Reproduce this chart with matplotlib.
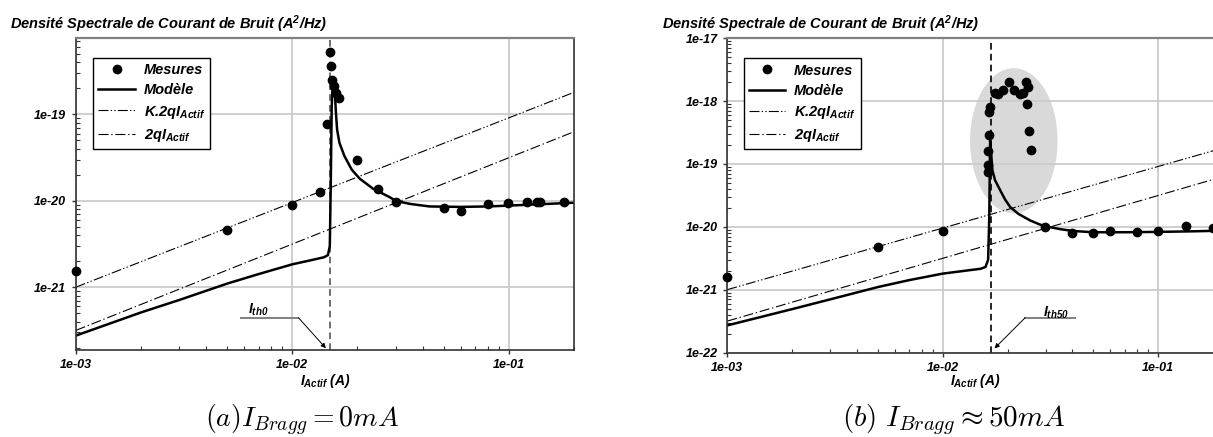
import numpy as np
import matplotlib
matplotlib.use("Agg")
import matplotlib.pyplot as plt
from matplotlib.patches import Ellipse
from matplotlib.ticker import LogLocator, FixedLocator, FuncFormatter, NullFormatter

plt.rcParams['font.family'] = ['Liberation Sans', 'DejaVu Sans']
plt.rcParams['font.weight'] = 'bold'
plt.rcParams['font.style'] = 'italic'
plt.rcParams['mathtext.fontset'] = 'custom'
plt.rcParams['mathtext.rm'] = 'Liberation Sans:italic:bold'
plt.rcParams['mathtext.it'] = 'Liberation Sans:italic:bold'
plt.rcParams['mathtext.bf'] = 'Liberation Sans:italic:bold'

# ---- data: (a) I_Bragg = 0 mA ----
mes_a_x = [0.001, 0.005, 0.010, 0.0134, 0.01452, 0.01496, 0.01507, 0.01531, 0.01557,
           0.01592, 0.01638, 0.0200, 0.0250, 0.0300, 0.0503, 0.0600, 0.0800, 0.0990,
           0.121, 0.135, 0.139, 0.180]
mes_a_y = [1.55e-21, 4.65e-21, 8.9e-21, 1.27e-20, 7.67e-20, 5.33e-19, 3.67e-19, 2.49e-19,
           2.12e-19, 1.78e-19, 1.56e-19, 2.95e-20, 1.36e-20, 9.6e-21, 8.2e-21, 7.6e-21,
           9.2e-21, 9.5e-21, 9.6e-21, 9.6e-21, 9.6e-21, 9.6e-21]
mod_a_x = [0.001, 0.002, 0.003, 0.005, 0.007, 0.010, 0.0125, 0.0140, 0.0146, 0.0149,
           0.01505, 0.0152, 0.01535, 0.0155, 0.01575, 0.0159, 0.0161, 0.0165, 0.0174,
           0.0188, 0.0205, 0.0236, 0.0282, 0.030, 0.035, 0.043, 0.060, 0.080, 0.100,
           0.150, 0.200]
mod_a_y = [2.75e-22, 5.1e-22, 7.1e-22, 1.1e-21, 1.42e-21, 1.84e-21, 2.08e-21, 2.22e-21,
           2.35e-21, 3.0e-21, 1.5e-20, 1.2e-19, 2.2e-19, 1.9e-19, 1.63e-19, 1.05e-19,
           6.7e-20, 4.7e-20, 3.3e-20, 2.3e-20, 1.8e-20, 1.38e-20, 1.1e-20, 1.0e-20,
           9.2e-21, 8.6e-21, 8.5e-21, 8.6e-21, 8.8e-21, 9.2e-21, 9.5e-21]
ith_a = 0.0149

# ---- data: (b) I_Bragg ~ 50 mA ----
mes_b_x = [0.001, 0.005, 0.010, 0.0162, 0.0163, 0.0163, 0.0164, 0.0164, 0.0165, 0.0174,
           0.0180, 0.0190, 0.0202, 0.0215, 0.0229, 0.0236, 0.0244, 0.0248, 0.0247,
           0.0251, 0.0256, 0.0299, 0.040, 0.050, 0.0597, 0.080, 0.100, 0.1345, 0.179]
mes_b_y = [1.58e-21, 4.75e-21, 8.7e-21, 7.5e-20, 9.8e-20, 1.58e-19, 2.85e-19, 6.8e-19,
           8.1e-19, 1.33e-18, 1.3e-18, 1.53e-18, 2.03e-18, 1.52e-18, 1.3e-18, 1.33e-18,
           2.0e-18, 1.66e-18, 9.0e-19, 3.3e-19, 1.65e-19, 1.0e-20, 8.0e-21, 7.9e-21,
           8.5e-21, 8.2e-21, 8.5e-21, 1.02e-20, 9.6e-21]
mod_b_x = [0.001, 0.002, 0.003, 0.005, 0.007, 0.010, 0.0130, 0.0150, 0.0158, 0.01625,
           0.01645, 0.01655, 0.0166, 0.0168, 0.0170, 0.0175, 0.0185, 0.0195, 0.0206,
           0.0225, 0.0255, 0.0280, 0.030, 0.035, 0.040, 0.050, 0.070, 0.100, 0.150, 0.200]
mod_b_y = [2.7e-22, 4.9e-22, 7.0e-22, 1.1e-21, 1.42e-21, 1.8e-21, 2.02e-21, 2.15e-21,
           2.3e-21, 3.0e-21, 1.5e-20, 1.2e-19, 2.35e-19, 1.4e-19, 8.0e-20, 5.5e-20,
           3.8e-20, 2.7e-20, 2.05e-20, 1.6e-20, 1.26e-20, 1.1e-20, 1.02e-20, 9.2e-21,
           8.6e-21, 8.2e-21, 8.2e-21, 8.3e-21, 8.5e-21, 8.7e-21]
ith_b = 0.0167

# shot-noise reference lines (end points)
ref_x = [0.001, 0.2]
k2qi_y = [1.0e-21, 1.8e-19]
twoqi_y = [3.16e-22, 6.3e-20]

x_ticks = [1e-3, 1e-2, 1e-1]
y_ticks_a = [1e-21, 1e-20, 1e-19]
y_ticks_b = [1e-22, 1e-21, 1e-20, 1e-19, 1e-18, 1e-17]

W, H = 1213, 437
fig = plt.figure(figsize=(W / 100, H / 100), dpi=100)

title = 'Densité Spectrale de Courant de Bruit (A$^{2}$/Hz)'
fmt = FuncFormatter(lambda v, p: f'{v:.0e}')


def panel(rect, ylim, yticks, mes_x, mes_y, mod_x, mod_y, ith, vcolor, legend_x):
    ax = fig.add_axes(rect)
    ax.set_xscale('log')
    ax.set_yscale('log')
    ax.set_xlim(1e-3, 0.2)
    ax.set_ylim(*ylim)
    ax.grid(which='major', color='#cccccc', lw=1.3)
    ax.set_axisbelow(True)
    ax.plot(ref_x, k2qi_y, color='k', lw=0.8, dashes=(9, 2, 1.2, 2, 1.2, 2),
            label='K.2q$I_{Actif}$')
    ax.plot(ref_x, twoqi_y, color='k', lw=0.8, dashes=(9, 2.5, 1.2, 2.5),
            label='2q$I_{Actif}$')
    ax.axvline(ith, color=vcolor, lw=1.2, dashes=(4, 2.5))
    ax.plot(mod_x, mod_y, color='k', lw=1.8, label='Modèle')
    ax.plot(mes_x, mes_y, 'o', color='k', ms=6, label='Mesures', clip_on=False, zorder=5)
    h, l = ax.get_legend_handles_labels()
    order = [3, 2, 0, 1]
    leg = ax.legend([h[i] for i in order], [l[i] for i in order], loc='upper left',
                    bbox_to_anchor=(legend_x, 0.936), borderaxespad=0, fancybox=False,
                    edgecolor='k', framealpha=1, fontsize=10.5, handlelength=2.5,
                    labelspacing=0.42, borderpad=0.35, handletextpad=0.6)
    leg.get_frame().set_linewidth(1.0)
    ax.xaxis.set_major_locator(FixedLocator(x_ticks))
    ax.yaxis.set_major_locator(FixedLocator(yticks))
    ax.xaxis.set_minor_locator(LogLocator(base=10, subs=np.arange(2, 10), numticks=50))
    ax.yaxis.set_minor_locator(LogLocator(base=10, subs=np.arange(2, 10), numticks=50))
    ax.xaxis.set_major_formatter(fmt)
    ax.yaxis.set_major_formatter(fmt)
    ax.xaxis.set_minor_formatter(NullFormatter())
    ax.yaxis.set_minor_formatter(NullFormatter())
    ax.tick_params(which='major', direction='out', length=3, width=1, pad=4,
                   labelsize=9, color='#333333')
    ax.tick_params(which='minor', direction='in', length=3, width=0.8, color='#333333')
    for s in ['left', 'bottom', 'right']:
        ax.spines[s].set_color('#333333')
        ax.spines[s].set_linewidth(1.2)
    ax.spines['top'].set_color('#808080')
    ax.spines['top'].set_linewidth(1.6)
    return ax


# (a)
ax1 = panel([75.8 / W, 1 - 349.5 / H, 498.2 / W, 311.2 / H], (1.9e-22, 7.6e-19), y_ticks_a,
            mes_a_x, mes_a_y, mod_a_x, mod_a_y, ith_a, '#555555', 0.035)
ax1.text(0.5, -0.101, '$I_{Actif}$ (A)', transform=ax1.transAxes, ha='center',
         va='center', fontsize=10)
ax1.text(0.366, 0.127, '$I_{th0}$', transform=ax1.transAxes, ha='center',
         va='center', fontsize=10)
ax1.plot([0.332, 0.447], [0.102, 0.102], color='#808080', lw=1.4, transform=ax1.transAxes)
ax1.annotate('', xy=(0.502, 0.004), xytext=(0.447, 0.102), xycoords='axes fraction',
             arrowprops=dict(arrowstyle='-|>', color='k', lw=0.7, mutation_scale=7,
                             shrinkA=0, shrinkB=0))

# (b) -- right edge of this panel runs just past the picture border
ax2 = panel([727.3 / W, 1 - 352.5 / H, 495.7 / W, 314.2 / H], (1e-22, 1e-17), y_ticks_b,
            mes_b_x, mes_b_y, mod_b_x, mod_b_y, ith_b, 'k', 0.0333)
ax2.add_patch(Ellipse((0.578, 0.674), 0.1765, 0.4615, transform=ax2.transAxes,
                      facecolor='#d9d9d9', edgecolor='none', zorder=0.5))
ax2.text(0.5, -0.0907, '$I_{Actif}$ (A)', transform=ax2.transAxes, ha='center',
         va='center', fontsize=10)
ax2.text(0.663, 0.126, '$I_{th50}$', transform=ax2.transAxes, ha='center',
         va='center', fontsize=10)
ax2.plot([0.601, 0.7015], [0.111, 0.111], color='#808080', lw=1.4, transform=ax2.transAxes)
ax2.annotate('', xy=(0.539, 0.013), xytext=(0.601, 0.111), xycoords='axes fraction',
             arrowprops=dict(arrowstyle='-|>', color='k', lw=0.7, mutation_scale=7,
                             shrinkA=0, shrinkB=0))

fig.text(10 / W, 1 - 24 / H, title, ha='left', va='center', fontsize=10.5)
fig.text(662 / W, 1 - 24 / H, title, ha='left', va='center', fontsize=10.5)

fig.text(302 / W, 1 - 420 / H, r'$(a)I_{Bragg} = 0mA$', math_fontfamily='cm',
         ha='center', va='center', fontsize=20, style='normal', weight='normal')
fig.text(954 / W, 1 - 420 / H, r'$(b)\ I_{Bragg} \approx 50mA$', math_fontfamily='cm',
         ha='center', va='center', fontsize=21, style='normal', weight='normal')

fig.savefig('out.png', dpi=100)
